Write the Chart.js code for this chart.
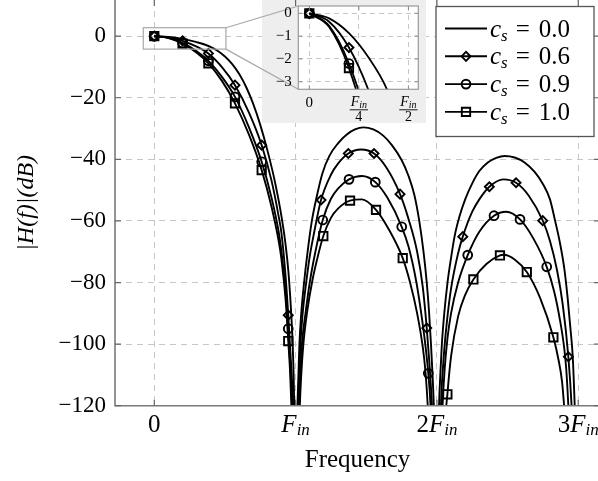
<!DOCTYPE html>
<html>
<head>
<meta charset="utf-8">
<title>|H(f)| frequency response</title>
<script src="https://cdn.jsdelivr.net/npm/chart.js@4.4.1/dist/chart.umd.min.js"></script>
<style>
  html, body { margin:0; padding:0; background:#ffffff; overflow:hidden; }
  #stage { position:relative; width:598px; height:481px; overflow:hidden; }
  #mainChart { position:absolute; left:0; top:0; }
  #insetChart { position:absolute; left:262px; top:0; }
</style>
</head>
<body>
<div id="stage">
  <canvas id="mainChart" width="620" height="481"></canvas>
  <canvas id="insetChart" width="164" height="123"></canvas>
</div>
<script>
// ---------------- data ----------------
const csValues = ['0.0', '0.6', '0.9', '1.0'];
const xTicksMain = [0, 1, 2, 3];
const xTickLabelsMain = ['0', 'F_in', '2F_in', '3F_in'];
const yTicksMain = [-120, -100, -80, -60, -40, -20, 0];
const xTicksInset = [0, 0.25, 0.5];
const xTickLabelsInset = ['0', 'F_in/4', 'F_in/2'];
const yTicksInset = [-3, -2, -1, 0];
const xTitle = 'Frequency';
const yTitle = '|H(f)|(dB)';

// [frequency (units of F_in), |H| in dB]
const curveCs00 = [
  [0,0],[0.1,-0.22],[0.2,-0.87],[0.3,-1.95],[0.39,-3.3],[0.45,-4.8],[0.5,-6.6],[0.55,-9.0],[0.6,-12.2],[0.65,-16.5],[0.7,-22.0],[0.75,-28.8],[0.8,-37.0],[0.85,-46.5],[0.9,-58.5],[0.93,-68],[0.95,-77],[0.97,-91],[0.98,-101],[0.99,-120],[1.0,-170],
  [1.008,-130],[1.013,-120],[1.02,-110],[1.027,-100],[1.04,-90],[1.06,-80],[1.085,-70],[1.115,-60],[1.15,-52],[1.19,-44.5],[1.24,-38.8],[1.3,-34.8],[1.36,-32],[1.42,-30.3],[1.48,-29.6],[1.55,-30.3],[1.62,-32.3],[1.68,-35.3],[1.75,-40.2],[1.8,-45.5],[1.84,-51.5],[1.875,-60],[1.905,-70],[1.928,-80],[1.945,-90],[1.958,-100],[1.969,-110],[1.978,-120],[1.99,-140],[2.0,-170],
  [2.008,-135],[2.015,-120],[2.024,-110],[2.035,-100],[2.052,-90],[2.075,-80],[2.1,-72],[2.125,-65],[2.16,-58.5],[2.2,-53],[2.25,-47.8],[2.3,-43.8],[2.36,-41],[2.42,-39.5],[2.48,-38.9],[2.55,-39.4],[2.62,-41],[2.69,-44],[2.75,-48],[2.8,-53],[2.836,-59.9],[2.87,-67],[2.9,-75],[2.925,-85],[2.945,-95],[2.961,-104],[2.975,-120],[2.985,-135],[3.0,-170]
];
const curveCs06 = [
  [0,0],[0.1,-0.37],[0.2,-1.5],[0.3,-3.4],[0.383,-5.6],[0.48,-10.1],[0.571,-15.9],[0.67,-24.8],[0.76,-35.4],[0.83,-47],[0.88,-58.5],[0.9,-64],[0.93,-78.5],[0.948,-90.6],[0.965,-104],[0.982,-120],[0.992,-140],[1.0,-170],
  [1.008,-140],[1.018,-120],[1.025,-110],[1.034,-100],[1.05,-90],[1.075,-80],[1.1,-71.5],[1.13,-64],[1.18,-53.2],[1.25,-45],[1.3,-41.4],[1.373,-38.1],[1.464,-36.8],[1.555,-38.1],[1.64,-42.5],[1.739,-51.3],[1.8,-59.5],[1.86,-70],[1.9,-81.5],[1.928,-94.8],[1.945,-105],[1.955,-112],[1.965,-120],[1.98,-140],[2.0,-170],
  [2.01,-150],[2.03,-118],[2.05,-103],[2.07,-93],[2.1,-82],[2.15,-70.5],[2.183,-65.1],[2.25,-57],[2.3,-53],[2.371,-48.9],[2.47,-46.5],[2.56,-47.6],[2.65,-51.8],[2.749,-59.9],[2.8,-66.5],[2.85,-76],[2.89,-87],[2.93,-104.1],[2.953,-120],[2.975,-145],[3.0,-170]
];
const curveCs09 = [
  [0,0],[0.1,-0.55],[0.2,-2.2],[0.3,-4.9],[0.383,-8.0],[0.48,-13.3],[0.571,-19.7],[0.67,-29.6],[0.76,-40.8],[0.83,-52.5],[0.88,-63.5],[0.9,-70],[0.93,-83.5],[0.948,-95],[0.962,-107],[0.975,-120],[0.988,-140],[1.0,-170],
  [1.01,-145],[1.024,-120],[1.033,-110],[1.045,-100],[1.07,-90],[1.1,-80],[1.14,-70],[1.192,-59.7],[1.25,-52.8],[1.3,-49.5],[1.378,-46.5],[1.47,-45.4],[1.564,-47.4],[1.65,-52.5],[1.751,-61.9],[1.8,-68.5],[1.855,-80],[1.895,-92],[1.92,-101],[1.939,-109.5],[1.955,-120],[1.97,-140],[2.0,-170],
  [2.02,-150],[2.04,-120],[2.055,-108],[2.075,-98],[2.1,-90],[2.15,-80],[2.218,-71.1],[2.3,-63.5],[2.404,-58.3],[2.49,-57.0],[2.588,-59.5],[2.68,-65.5],[2.777,-74.9],[2.83,-83],[2.87,-92],[2.9,-101],[2.915,-108],[2.93,-120],[2.95,-140],[3.0,-170]
];
const curveCs10 = [
  [0,0],[0.1,-0.6],[0.2,-2.4],[0.3,-5.4],[0.383,-8.8],[0.48,-14.6],[0.571,-21.8],[0.67,-32],[0.76,-43.5],[0.83,-55.5],[0.88,-66.5],[0.9,-72.5],[0.93,-86],[0.948,-99],[0.962,-110],[0.97,-120],[0.985,-142],[1.0,-170],
  [1.015,-150],[1.03,-120],[1.04,-110],[1.055,-100],[1.08,-90],[1.12,-79],[1.16,-71],[1.196,-64.9],[1.25,-59],[1.3,-56],[1.385,-53.4],[1.47,-53.0],[1.569,-56.4],[1.66,-62.8],[1.758,-72.1],[1.81,-80],[1.86,-90],[1.9,-101],[1.918,-108.5],[1.935,-120],[1.96,-145],[2.0,-170],
  [2.04,-160],[2.06,-125],[2.074,-116.3],[2.1,-104],[2.15,-91],[2.2,-84],[2.258,-79],[2.35,-74],[2.446,-71.2],[2.47,-71.0],[2.55,-72.5],[2.636,-76.6],[2.73,-85],[2.824,-97.8],[2.86,-105],[2.885,-112],[2.9,-120],[2.93,-140],[3.0,-170]
];
// marker positions on the curves
const markCs06 = [[0,0],[0.2,-1.5],[0.383,-5.6],[0.571,-15.9],[0.76,-35.4],[0.948,-90.6],[1.18,-53.2],[1.373,-38.1],[1.555,-38.1],[1.739,-51.3],[1.928,-94.8],[2.183,-65.1],[2.371,-48.9],[2.56,-47.6],[2.749,-59.9],[2.93,-104.1]];
const markCs09 = [[0,0],[0.2,-2.2],[0.383,-8.0],[0.571,-19.7],[0.76,-40.8],[0.948,-95],[1.192,-59.7],[1.378,-46.5],[1.564,-47.4],[1.751,-61.9],[1.939,-109.5],[2.218,-71.1],[2.404,-58.3],[2.588,-59.5],[2.777,-74.9]];
const markCs10 = [[0,0],[0.2,-2.4],[0.383,-8.8],[0.571,-21.8],[0.76,-43.5],[0.948,-99],[1.196,-64.9],[1.385,-53.4],[1.569,-56.4],[1.758,-72.1],[2.074,-116.3],[2.258,-79],[2.446,-71.2],[2.636,-76.6],[2.824,-97.8]];
// zoomed window (data coordinates of the main plot)
const zoomWindowF = [-0.078, 0.507];
const zoomWindowDb = [-4.2, 2.75];

// ---------------- styles ----------------
const FONT = '"Liberation Serif", "Times New Roman", serif';
const markerStyles = [null, 'rectRot', 'circle', 'rect'];
const markerRadius = { rectRot: 4.5, circle: 4.4, rect: 5.9 };
const MARK_LW = 1.9;
const GRID = '#c6c6c6';
const AXIS = '#7a7a7a';

const seriesList = [
  { cs: csValues[0], curve: curveCs00, marks: null,     style: markerStyles[0] },
  { cs: csValues[1], curve: curveCs06, marks: markCs06, style: markerStyles[1] },
  { cs: csValues[2], curve: curveCs09, marks: markCs09, style: markerStyles[2] },
  { cs: csValues[3], curve: curveCs10, marks: markCs10, style: markerStyles[3] }
];

const toXY = arr => arr.map(p => ({ x: p[0], y: p[1] }));
const fmtNum = v => (v < 0 ? '\u2212' + Math.abs(v) : String(v));
const noPad = s => { s.paddingTop = 0; s.paddingBottom = 0; s.paddingLeft = 0; s.paddingRight = 0; };

function buildDatasets(lw) {
  const ds = [];
  seriesList.forEach(s => {
    ds.push({
      label: 'c_s = ' + s.cs, data: toXY(s.curve),
      borderColor: '#000', borderWidth: lw, pointRadius: 0,
      cubicInterpolationMode: 'monotone', fill: false
    });
  });
  seriesList.forEach(s => {
    if (!s.marks) return;
    ds.push({
      label: 'markers c_s = ' + s.cs, data: toXY(s.marks), showLine: false,
      pointStyle: s.style, pointRadius: markerRadius[s.style], pointBorderWidth: MARK_LW,
      pointBorderColor: '#000', pointBackgroundColor: 'rgba(0,0,0,0)', borderColor: '#000'
    });
  });
  return ds;
}

function fontStr(size, italic) { return (italic ? 'italic ' : '') + size + 'px ' + FONT; }
function mathParts(label, size, subSize, subDy) {
  const m = /^(\d*)([A-Za-z]?)(?:_(\w+))?$/.exec(label);
  const parts = [];
  if (m[1]) parts.push({ t: m[1], size, italic: false, dy: 0 });
  if (m[2]) parts.push({ t: m[2], size, italic: true, dy: 0 });
  if (m[3]) parts.push({ t: m[3], size: subSize, italic: true, dy: subDy });
  return parts;
}
function measureParts(ctx, parts) {
  let w = 0;
  parts.forEach(p => { ctx.font = fontStr(p.size, p.italic); p.w = ctx.measureText(p.t).width; w += p.w + (p.gap || 0); });
  return w;
}
function drawParts(ctx, parts, x, y, align) {
  const w = measureParts(ctx, parts);
  let cx = align === 'center' ? x - w / 2 : x;
  ctx.textAlign = 'left'; ctx.textBaseline = 'alphabetic'; ctx.fillStyle = '#000';
  parts.forEach(p => { ctx.font = fontStr(p.size, p.italic); ctx.fillText(p.t, cx, y + (p.dy || 0)); cx += p.w + (p.gap || 0); });
  return w;
}
function drawMarker(ctx, style, x, y) {
  const r = markerRadius[style];
  ctx.beginPath();
  if (style === 'circle') ctx.arc(x, y, r, 0, Math.PI * 2);
  else if (style === 'rect') { const h = r * Math.SQRT1_2; ctx.rect(x - h, y - h, 2 * h, 2 * h); }
  else if (style === 'rectRot') { ctx.moveTo(x - r, y); ctx.lineTo(x, y - r); ctx.lineTo(x + r, y); ctx.lineTo(x, y + r); ctx.closePath(); }
  ctx.stroke();
}
function drawInwardTicks(ctx, chart, len, color, width, sides) {
  const { chartArea: a, scales: { x, y } } = chart;
  ctx.save(); ctx.strokeStyle = color; ctx.lineWidth = width; ctx.beginPath();
  x.ticks.forEach(t => {
    const px = x.getPixelForValue(t.value);
    if (sides.bottom) { ctx.moveTo(px, a.bottom); ctx.lineTo(px, a.bottom - len); }
    if (sides.top) { ctx.moveTo(px, a.top); ctx.lineTo(px, a.top + len); }
  });
  y.ticks.forEach(t => {
    const py = y.getPixelForValue(t.value);
    if (sides.left) { ctx.moveTo(a.left, py); ctx.lineTo(a.left + len, py); }
    if (sides.right) { ctx.moveTo(a.right, py); ctx.lineTo(a.right - len, py); }
  });
  ctx.stroke(); ctx.restore();
}

// ---------------- inset chart ----------------
const insetDecor = {
  id: 'insetDecor',
  beforeDraw(chart) {
    const { ctx, chartArea: a } = chart;
    ctx.save(); ctx.fillStyle = '#ffffff'; ctx.fillRect(a.left, a.top, a.right - a.left, a.bottom - a.top); ctx.restore();
  },
  afterDraw(chart) {
    const { ctx, chartArea: a, scales: { x } } = chart;
    drawInwardTicks(ctx, chart, 4, '#8a8a8a', 1, { left: true, right: true, top: true, bottom: true });
    ctx.save();
    ctx.strokeStyle = '#9a9a9a'; ctx.lineWidth = 1.2;
    ctx.strokeRect(a.left, a.top, a.right - a.left, a.bottom - a.top);
    xTicksInset.forEach((v, i) => {
      const px = x.getPixelForValue(v);
      const lab = xTickLabelsInset[i];
      if (lab.indexOf('/') < 0) {
        drawParts(ctx, [{ t: lab, size: 15, italic: false, dy: 0 }], px, a.bottom + 18, 'center');
      } else {
        const [num, den] = lab.split('/');
        const np = mathParts(num, 14, 10, 2);
        const w = drawParts(ctx, np, px, a.bottom + 16.5, 'center');
        ctx.beginPath(); ctx.strokeStyle = '#000'; ctx.lineWidth = 0.9;
        const bw = Math.max(w, 14) + 2;
        ctx.moveTo(px - bw / 2, a.bottom + 20.5); ctx.lineTo(px + bw / 2, a.bottom + 20.5); ctx.stroke();
        drawParts(ctx, [{ t: den, size: 14, italic: false, dy: 0 }], px, a.bottom + 32, 'center');
      }
    });
    ctx.restore();
  }
};

const insetChart = new Chart(document.getElementById('insetChart'), {
  type: 'line',
  data: { datasets: buildDatasets(1.8) },
  options: {
    responsive: false, animation: false, devicePixelRatio: 1, events: [],
    layout: { autoPadding: false, padding: { left: 0, right: 7.7, top: 6, bottom: 0 } },
    plugins: { legend: { display: false }, tooltip: { enabled: false } },
    scales: {
      x: {
        type: 'linear', min: -0.0556, max: 0.55,
        afterBuildTicks: s => { s.ticks = xTicksInset.map(v => ({ value: v })); },
        afterFit: s => { s.height = 33.7; noPad(s); },
        ticks: { display: false },
        grid: { color: GRID, lineWidth: 1, drawTicks: false },
        border: { display: false, dash: [5, 4] }
      },
      y: {
        type: 'linear', min: -3.33, max: 0.32,
        afterBuildTicks: s => { s.ticks = yTicksInset.map(v => ({ value: v })); },
        afterFit: s => { s.width = 36.3; noPad(s); },
        ticks: { font: { family: FONT, size: 15 }, color: '#000', padding: 6.6, callback: v => fmtNum(v) },
        grid: { color: GRID, lineWidth: 1, drawTicks: false },
        border: { display: false, dash: [5, 4] }
      }
    }
  },
  plugins: [insetDecor]
});

// ---------------- main chart ----------------
const mainDecor = {
  id: 'mainDecor',
  afterDatasetsDraw(chart) {
    const { ctx, scales: { x, y } } = chart;
    const ic = document.getElementById('insetChart');
    const ox = ic.offsetLeft, oy = ic.offsetTop;
    ctx.save();
    ctx.fillStyle = '#eeeeee';
    ctx.fillRect(ox, oy, ic.width, ic.height);
    const x0 = x.getPixelForValue(zoomWindowF[0]), x1 = x.getPixelForValue(zoomWindowF[1]);
    const y0 = y.getPixelForValue(zoomWindowDb[1]), y1 = y.getPixelForValue(zoomWindowDb[0]);
    ctx.strokeStyle = '#a8a8a8'; ctx.lineWidth = 1.2;
    ctx.strokeRect(x0, y0, x1 - x0, y1 - y0);
    const ia = insetChart.chartArea;
    ctx.beginPath();
    ctx.moveTo(x1, y0); ctx.lineTo(ox + ia.left, oy + ia.top);
    ctx.moveTo(x1, y1); ctx.lineTo(ox + ia.left, oy + ia.bottom);
    ctx.stroke();
    ctx.restore();
  },
  afterDraw(chart) {
    const { ctx, chartArea: a, scales: { x } } = chart;
    ctx.save();
    ctx.strokeStyle = AXIS; ctx.lineWidth = 1.6;
    ctx.beginPath();
    ctx.moveTo(a.left, a.top); ctx.lineTo(a.left, a.bottom); ctx.lineTo(a.right, a.bottom); ctx.lineTo(a.right, a.top);
    ctx.stroke();
    ctx.restore();
    drawInwardTicks(ctx, chart, 6, '#666666', 1.2, { left: true, right: true, top: true, bottom: true });
    ctx.save();
    xTicksMain.forEach((v, i) => {
      const px = x.getPixelForValue(v);
      drawParts(ctx, mathParts(xTickLabelsMain[i], 25, 17, 3), px, a.bottom + 26.5, 'center');
    });
    ctx.restore();
    // legend
    const box = { l: 436, t: 6.5, r: 594, b: 136.5 };
    ctx.save();
    ctx.fillStyle = '#ffffff'; ctx.fillRect(box.l, box.t, box.r - box.l, box.b - box.t);
    ctx.strokeStyle = '#555555'; ctx.lineWidth = 1.3; ctx.strokeRect(box.l, box.t, box.r - box.l, box.b - box.t);
    seriesList.forEach((s, i) => {
      const ry = box.t + 22 + i * 27.8;
      ctx.strokeStyle = '#000'; ctx.lineWidth = 1.9;
      ctx.beginPath(); ctx.moveTo(box.l + 9, ry); ctx.lineTo(box.l + 51, ry); ctx.stroke();
      if (s.style) { ctx.lineWidth = MARK_LW; drawMarker(ctx, s.style, box.l + 30, ry); }
      drawParts(ctx, [
        { t: 'c', size: 25, italic: true, dy: 0 },
        { t: 's', size: 17, italic: true, dy: 4, gap: 8 },
        { t: '=', size: 25, italic: false, dy: 0, gap: 9 },
        { t: s.cs, size: 25, italic: false, dy: 0 }
      ], box.l + 54, ry + 8, 'left');
    });
    ctx.restore();
  }
};

const mainChart = new Chart(document.getElementById('mainChart'), {
  type: 'line',
  data: { datasets: buildDatasets(1.9) },
  options: {
    responsive: false, animation: false, devicePixelRatio: 1, events: [],
    layout: { autoPadding: false, padding: { left: 0, right: 20, top: 0, bottom: 0 } },
    plugins: { legend: { display: false }, tooltip: { enabled: false } },
    scales: {
      x: {
        type: 'linear', min: -0.278, max: 3.154,
        afterBuildTicks: s => { s.ticks = xTicksMain.map(v => ({ value: v })); },
        afterFit: s => { s.height = 75.3; noPad(s); },
        ticks: { display: false },
        grid: { color: GRID, lineWidth: 1, drawTicks: false },
        border: { display: false, dash: [6, 5] },
        title: { display: true, text: xTitle, color: '#000', font: { family: FONT, size: 25 }, padding: { top: 0, bottom: 6 } }
      },
      y: {
        type: 'linear', min: -120, max: 11.75,
        afterBuildTicks: s => { s.ticks = yTicksMain.map(v => ({ value: v })); },
        afterFit: s => { s.width = 115; noPad(s); },
        ticks: { font: { family: FONT, size: 23 }, color: '#000', padding: 9, callback: v => fmtNum(v) },
        grid: { color: GRID, lineWidth: 1, drawTicks: false },
        border: { display: false, dash: [6, 5] },
        title: { display: true, text: yTitle, color: '#000', font: { family: FONT, size: 24, style: 'italic' }, padding: { top: 12, bottom: 0 } }
      }
    }
  },
  plugins: [mainDecor]
});
</script>
</body>
</html>
